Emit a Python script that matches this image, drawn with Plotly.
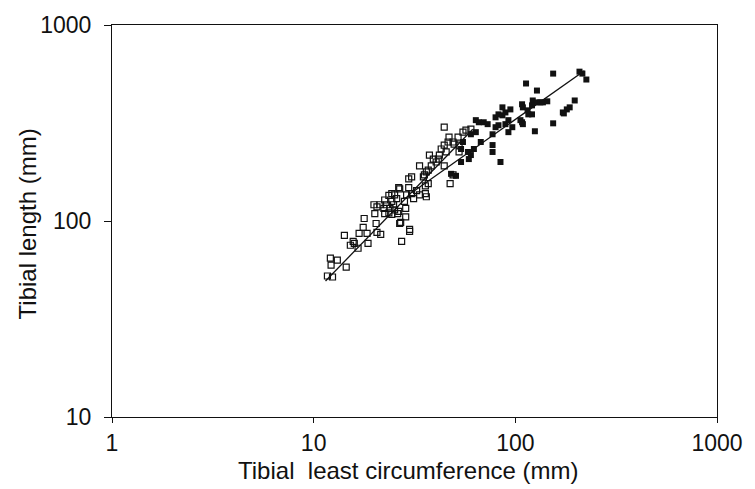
import numpy as np
import plotly.graph_objects as go

# Open squares (juveniles)
open_x = [11.7, 12.4, 12.1, 12.2, 13.1, 14.5, 14.2, 15.2, 15.7, 15.9, 16.6, 16.8, 17.6, 17.8,
          18.4, 18.6, 20.4, 20.6, 21.5, 19.9, 20.1, 20.6, 21.3, 22.3, 22.5, 23.0, 23.6, 23.9,
          24.4, 24.9, 25.2, 26.1, 26.4, 22.5, 23.6, 24.4, 25.2, 25.8, 26.4, 24.4, 28.6, 28.6,
          27.0, 29.9, 27.3, 29.6, 30.6, 29.6, 30.6, 32.4, 33.5, 31.3, 35.8, 35.8, 33.5, 35.4,
          37.0, 38.3, 44.4, 47.5, 49.1, 44.4, 46.9, 52.0, 49.1, 46.4, 44.4, 42.9, 37.5, 39.2,
          40.5, 42.0, 35.0, 36.2, 37.0, 26.7, 28.9, 36.2, 28.2, 55.0, 56.9, 60.2, 49.7, 52.6,
          52.6, 45.4, 41.5, 26.7, 29.9]
open_y = [52.4, 51.8, 64.6, 59.5, 63.1, 58.2, 84.5, 75.2, 78.8, 76.9, 72.6, 86.4, 92.7, 103,
          86.4, 76.9, 97.1, 87.5, 85.5, 121, 109, 118, 121, 116, 109, 121, 110, 116,
          108, 121, 114, 109, 112, 128, 135, 138, 136, 130, 148, 126, 116, 105,
          98.3, 88.5, 78.8, 164, 168, 148, 138, 143, 136, 130, 151, 138, 191, 172,
          182, 191, 191, 155, 172, 301, 268, 268, 253, 253, 244, 233, 217, 207,
          200, 217, 168, 178, 155, 146, 136, 133, 126, 284, 291, 294, 247, 225,
          244, 225, 207, 97.1, 90.6]

# Filled squares (adults)
fill_x = [50.8, 48.0, 53.8, 58.2, 58.8, 60.2, 62.3, 55.0, 53.8, 63.7, 65.9, 69.7, 72.9, 63.7,
          60.2, 67.4, 77.1, 77.1, 77.1, 84.4, 79.8, 79.8, 82.5, 86.3, 86.3, 89.3, 94.5, 92.4,
          96.6, 92.4, 89.3, 82.5, 106, 108, 109, 108, 109, 116, 121, 115, 122, 128, 133, 137,
          144, 121, 125, 128, 113, 154, 154, 172, 180, 186, 197, 208, 215, 225, 174]
fill_y = [170, 174, 200, 225, 207, 217, 233, 253, 233, 327, 319, 319, 312, 284,
          277, 253, 277, 244, 225, 200, 301, 338, 350, 380, 346, 358, 371, 327,
          301, 284, 312, 308, 327, 319, 312, 394, 380, 350, 350, 367, 412, 403, 403, 403,
          408, 389, 287, 463, 503, 565, 315, 358, 371, 380, 412, 578, 565, 527, 354]

# Regression lines: y = a * x^b over [xmin, xmax]
line_a = [3.73, 11.64]
line_b = [1.06, 0.726]
line_xmin = [11.45, 30.6]
line_xmax = [61.5, 220]

x_ticks = [1, 10, 100, 1000]
x_ticktext = ["1", "10", "100", "1000"]
y_ticks = [10, 100, 1000]
y_ticktext = ["10", "100", "1000"]

fig = go.Figure()
for a, b, x0, x1 in zip(line_a, line_b, line_xmin, line_xmax):
    xs = np.array([x0, x1])
    fig.add_trace(go.Scatter(x=xs, y=a * xs ** b, mode="lines",
                             line=dict(color="#111", width=1.3), showlegend=False,
                             hoverinfo="skip"))
fig.add_trace(go.Scatter(x=open_x, y=open_y, mode="markers", showlegend=False,
                         marker=dict(symbol="square-open", size=6, color="#111",
                                     line=dict(width=1.2, color="#111"))))
fig.add_trace(go.Scatter(x=fill_x, y=fill_y, mode="markers", showlegend=False,
                         marker=dict(symbol="square", size=6, color="#111",
                                     line=dict(width=0))))

font = dict(family="Liberation Sans, Arial, sans-serif", size=23, color="#111")
fig.update_layout(
    width=755, height=489,
    margin=dict(l=112, r=31, t=22, b=72),
    paper_bgcolor="white", plot_bgcolor="white",
    font=font,
    xaxis=dict(type="log", range=[0, 3], tickvals=x_ticks, ticktext=x_ticktext,
               showgrid=False, zeroline=False, showline=True, linecolor="#111",
               linewidth=1.2, mirror=True, ticks="outside", ticklen=5,
               tickcolor="#111", tickfont=font, ticklabelstandoff=0),
    yaxis=dict(type="log", range=[1, 3], tickvals=y_ticks, ticktext=y_ticktext,
               showgrid=False, zeroline=False, showline=True, linecolor="#111",
               linewidth=1.2, mirror=True, ticks="outside", ticklen=7,
               tickcolor="#111", tickfont=font, ticklabelstandoff=8),
    annotations=[
        dict(text="Tibial\u00a0 least circumference (mm)", xref="paper", yref="paper",
             x=0.49, y=-0.137, xanchor="center", yanchor="middle", showarrow=False,
             font=dict(family="Liberation Sans, Arial, sans-serif", size=24, color="#111")),
        dict(text="Tibial length (mm)", xref="paper", yref="paper",
             x=(27 - 112) / 612, y=(417 - 222) / 395, xanchor="center", yanchor="middle",
             textangle=-90, showarrow=False,
             font=dict(family="Liberation Sans, Arial, sans-serif", size=24, color="#111")),
    ],
)
fig.write_html("out.html")
